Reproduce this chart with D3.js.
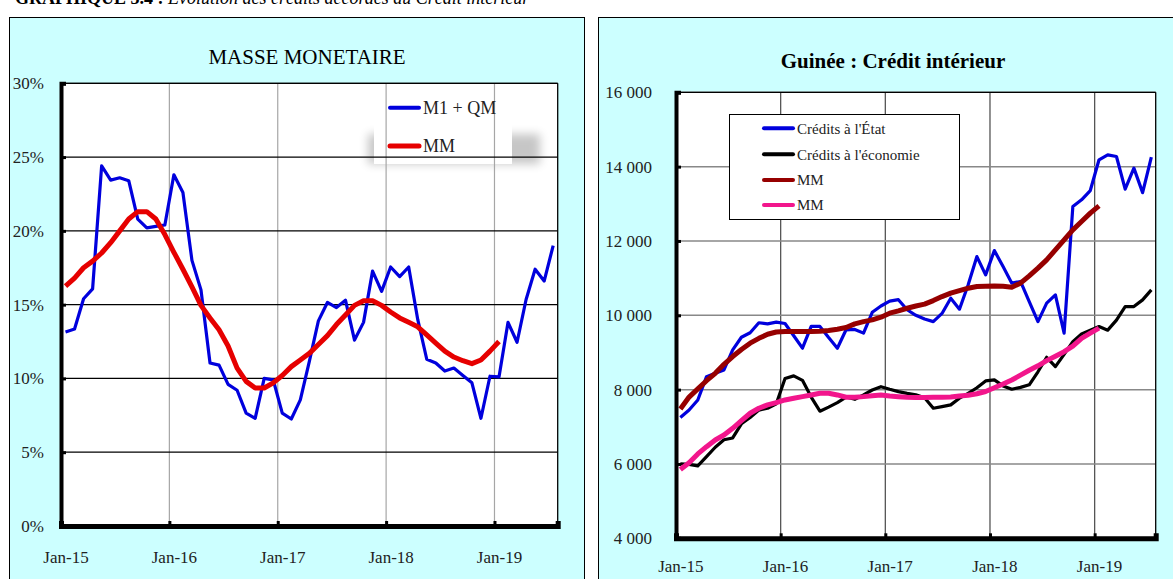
<!DOCTYPE html>
<html><head><meta charset="utf-8">
<script src="https://cdn.jsdelivr.net/npm/d3@7"></script>
<style>html,body{margin:0;padding:0;background:#fff;overflow:hidden;} svg{display:block;}</style>
</head><body>
<svg id="c" width="1173" height="579"></svg>
<script>
// ---------- DATA ----------
const months = ["Jan-15","Feb-15","Mar-15","Apr-15","May-15","Jun-15","Jul-15","Aug-15","Sep-15","Oct-15","Nov-15","Dec-15",
"Jan-16","Feb-16","Mar-16","Apr-16","May-16","Jun-16","Jul-16","Aug-16","Sep-16","Oct-16","Nov-16","Dec-16",
"Jan-17","Feb-17","Mar-17","Apr-17","May-17","Jun-17","Jul-17","Aug-17","Sep-17","Oct-17","Nov-17","Dec-17",
"Jan-18","Feb-18","Mar-18","Apr-18","May-18","Jun-18","Jul-18","Aug-18","Sep-18","Oct-18","Nov-18","Dec-18",
"Jan-19","Feb-19","Mar-19","Apr-19","May-19","Jun-19","Jul-19"];
const yearTicks = ["Jan-15","Jan-16","Jan-17","Jan-18","Jan-19"];

// Left chart: MASSE MONETAIRE (growth, %)
const m1qm = [13.15,13.35,15.4,16.07,24.4,23.44,23.6,23.4,20.8,20.2,20.3,20.4,
23.8,22.6,18.0,16.0,11.05,10.9,9.6,9.2,7.65,7.3,10.0,9.9,
7.65,7.25,8.55,11.15,13.9,15.15,14.8,15.3,12.6,13.8,17.27,15.9,
17.55,16.9,17.55,14.0,11.3,11.05,10.5,10.7,10.2,9.7,7.3,10.15,
10.1,13.8,12.45,15.35,17.4,16.6,19.0];
const mmMasse = [16.25,16.8,17.5,17.95,18.5,19.2,20.0,20.8,21.3,21.3,20.8,19.75,
18.55,17.4,16.2,14.95,14.1,13.3,12.2,10.7,9.8,9.35,9.35,9.7,
10.2,10.8,11.25,11.7,12.3,12.9,13.65,14.3,14.95,15.27,15.27,14.95,
14.5,14.1,13.8,13.5,12.95,12.4,11.85,11.45,11.2,11.0,11.25,11.85,
12.5];
const pctTicks = [0,5,10,15,20,25,30];

// Right chart: Guinée : Crédit intérieur
const creditEtat = [7250,7450,7720,8350,8440,8530,9070,9410,9530,9800,9770,9815,
9780,9450,9115,9700,9700,9400,9115,9610,9620,9520,10080,10250,
10380,10420,10150,10000,9900,9830,10050,10460,10165,10820,11580,11088,
11742,11312,10865,10910,10370,9830,10326,10550,9520,12927,13107,13357,
14184,14318,14273,13395,13960,13300,14256];
const creditEco = [6000,5990,5950,6200,6450,6650,6700,7080,7250,7450,7500,7620,
8300,8370,8250,7800,7420,7530,7650,7800,7740,7860,7990,8080,
8010,7946,7900,7860,7780,7500,7543,7590,7770,7900,8050,8235,
8262,8100,8010,8060,8130,8480,8870,8620,8950,9290,9500,9600,
9696,9600,9870,10235,10235,10415,10684];
const mmEtat = [7480,7800,8020,8240,8440,8680,8890,9080,9250,9380,9490,9550,
9562,9562,9562,9562,9570,9590,9626,9670,9770,9831,9876,9950,
10057,10119,10190,10250,10300,10396,10504,10595,10665,10730,10773,10780,
10790,10780,10757,10865,11060,11268,11492,11760,12030,12300,12523,12750,
12945];
const mmEco = [5850,6035,6270,6466,6646,6780,6960,7166,7365,7500,7588,7650,
7723,7770,7812,7857,7903,7903,7857,7795,7795,7812,7838,7857,
7830,7810,7795,7790,7790,7795,7795,7800,7830,7850,7890,7950,
8050,8150,8260,8390,8520,8640,8780,8900,9020,9170,9380,9520,
9653];
const creditTicks = [4000,6000,8000,10000,12000,14000,16000];

// ---------- DRAW ----------
const svg = d3.select("#c");
const SERIF = "'Liberation Serif','Times New Roman',serif";
const CYAN = "#ccffff";

// header (cut at top, as in the source page)
const hdr = svg.append("text").attr("x",15).attr("y",3.5)
  .attr("font-family",SERIF).attr("font-size",18).attr("fill","#000");
hdr.append("tspan").attr("font-weight","bold").text("GRAPHIQUE 3.4 : ");
hdr.append("tspan").attr("font-style","italic").text("Evolution des crédits accordés au Crédit intérieur");

const defs = svg.append("defs");
defs.append("filter").attr("id","blur").attr("x","-30%").attr("y","-30%").attr("width","160%").attr("height","160%")
  .append("feGaussianBlur").attr("stdDeviation",5);

function panel(cfg){
  const g = svg.append("g");
  g.append("rect").attr("x",cfg.frame[0]+0.5).attr("y",cfg.frame[1]+0.5)
    .attr("width",cfg.frame[2]).attr("height",cfg.frame[3])
    .attr("fill",CYAN).attr("stroke","#000").attr("stroke-width",1);
  g.append("text").attr("x",cfg.titleX).attr("y",cfg.titleY).attr("text-anchor","middle")
    .attr("font-family",SERIF).attr("font-size",cfg.titleSize).attr("font-weight",cfg.titleWeight)
    .text(cfg.title);

  const [x0,x1,yTop,yBot] = cfg.plot;
  const xs = d3.scaleLinear().domain([0, months.length]).range([x0,x1]);
  const ys = d3.scaleLinear().domain(cfg.yDomain).range([yBot,yTop]);

  g.append("rect").attr("x",x0).attr("y",yTop).attr("width",x1-x0).attr("height",yBot-yTop).attr("fill","#fff");
  if (cfg.beforeGrid) cfg.beforeGrid(g);

  const yearIdx = yearTicks.map(t => months.indexOf(t));
  g.append("g").selectAll("line").data(yearIdx.filter(i=>i>0)).join("line")
    .attr("x1",d=>xs(d)).attr("x2",d=>xs(d)).attr("y1",yTop).attr("y2",yBot)
    .attr("stroke",cfg.vGrid).attr("stroke-width",cfg.vGridW);
  g.append("g").selectAll("line").data(cfg.yTicks.slice(1)).join("line")
    .attr("x1",x0).attr("x2",x1).attr("y1",d=>ys(d)).attr("y2",d=>ys(d))
    .attr("stroke",cfg.hGrid).attr("stroke-width",cfg.hGridW);
  g.append("line").attr("x1",x1).attr("x2",x1).attr("y1",yTop).attr("y2",yBot).attr("stroke","#000").attr("stroke-width",1.3);
  g.append("line").attr("x1",x0).attr("x2",x1).attr("y1",yTop).attr("y2",yTop).attr("stroke","#000").attr("stroke-width",1.3);

  const line = d3.line().x((d,i)=>xs(i+0.5)).y(d=>ys(d));
  cfg.series.forEach(s=>{
    g.append("path").datum(s.values).attr("d",line).attr("fill","none")
      .attr("stroke",s.color).attr("stroke-width",s.width)
      .attr("stroke-linejoin","round").attr("stroke-linecap","butt");
  });

  const ya = g.append("g").attr("transform",`translate(${x0},0)`)
    .call(d3.axisLeft(ys).tickValues(cfg.yTicks).tickFormat(cfg.yFmt).tickSize(-5).tickPadding(cfg.yPad));
  ya.select(".domain").attr("stroke","#000").attr("stroke-width",4);
  ya.selectAll(".tick line").attr("stroke","#000").attr("stroke-width",3);
  ya.selectAll("text").attr("font-family",SERIF).attr("font-size",17).attr("fill","#222");

  const xa = g.append("g").attr("transform",`translate(0,${yBot})`)
    .call(d3.axisBottom(xs).tickValues(yearIdx).tickFormat("").tickSize(-5));
  xa.select(".domain").attr("stroke","#000").attr("stroke-width",5);
  xa.selectAll(".tick line").attr("stroke","#000").attr("stroke-width",3);
  const xl = g.append("g").attr("transform",`translate(0,${yBot})`)
    .call(d3.axisBottom(xs).tickValues(yearIdx.map(i=>i+0.5)).tickFormat(d=>months[Math.floor(d)]).tickSize(0).tickPadding(cfg.xPad));
  xl.select(".domain").remove();
  xl.selectAll("text").attr("font-family",SERIF).attr("font-size",17).attr("fill","#222");

  if (cfg.legend) cfg.legend(g);
}

// Left panel
panel({
  frame:[9,17,575,620], title:"MASSE MONETAIRE", titleX:307, titleY:64, titleSize:21, titleWeight:"normal",
  plot:[61,557.7,83.3,526], yDomain:[0,30], yTicks:pctTicks, yFmt:d=>d+"%", yPad:17, xPad:25,
  vGrid:"#a6a6a6", vGridW:1.2, hGrid:"#000", hGridW:1.2,
  beforeGrid:g=>{
    g.append("rect").attr("x",368).attr("y",134).attr("width",172).attr("height",30)
      .attr("fill","#000").attr("opacity",0.22).attr("filter","url(#blur)");
    g.append("rect").attr("x",374).attr("y",86).attr("width",138).attr("height",78).attr("fill","#fff");
  },
  series:[
    {values:m1qm, color:"#0000dd", width:3.2},
    {values:mmMasse, color:"#e60000", width:5}
  ],
  legend:g=>{
    const items=[{t:"M1 + QM",c:"#0000dd",w:4,y:107.7},{t:"MM",c:"#e60000",w:5,y:146}];
    items.forEach(it=>{
      g.append("line").attr("x1",390).attr("x2",419).attr("y1",it.y).attr("y2",it.y)
        .attr("stroke",it.c).attr("stroke-width",it.w).attr("stroke-linecap","round");
      g.append("text").attr("x",423).attr("y",it.y).attr("dy","0.35em")
        .attr("font-family",SERIF).attr("font-size",18).attr("fill","#222").text(it.t);
    });
  }
});

// Right panel
panel({
  frame:[598,17,620,620], title:"Guinée : Crédit intérieur", titleX:893, titleY:68, titleSize:21, titleWeight:"bold",
  plot:[676,1155.7,92.3,538.3], yDomain:[4000,16000], yTicks:creditTicks,
  yFmt:d=>d3.format(",")(d).replace(/,/g," "), yPad:24, xPad:22,
  vGrid:"#555", vGridW:1.3, hGrid:"#888", hGridW:1.5,
  series:[
    {values:creditEtat, color:"#0000dd", width:3.2},
    {values:creditEco, color:"#000", width:3.2},
    {values:mmEtat, color:"#960000", width:5},
    {values:mmEco, color:"#f2168c", width:5}
  ],
  legend:g=>{
    g.append("rect").attr("x",729.5).attr("y",114.5).attr("width",230).attr("height",105)
      .attr("fill","#fff").attr("stroke","#000").attr("stroke-width",1);
    const items=[{t:"Crédits à l'État",c:"#0000dd",y:128.3},{t:"Crédits à l'économie",c:"#000",y:154.3},
                 {t:"MM",c:"#960000",y:180},{t:"MM",c:"#f2168c",y:205}];
    items.forEach(it=>{
      g.append("line").attr("x1",764).attr("x2",793).attr("y1",it.y).attr("y2",it.y)
        .attr("stroke",it.c).attr("stroke-width",4).attr("stroke-linecap","round");
      g.append("text").attr("x",797).attr("y",it.y).attr("dy","0.35em")
        .attr("font-family",SERIF).attr("font-size",15).attr("fill","#222").text(it.t);
    });
  }
});
</script>
</body></html>
